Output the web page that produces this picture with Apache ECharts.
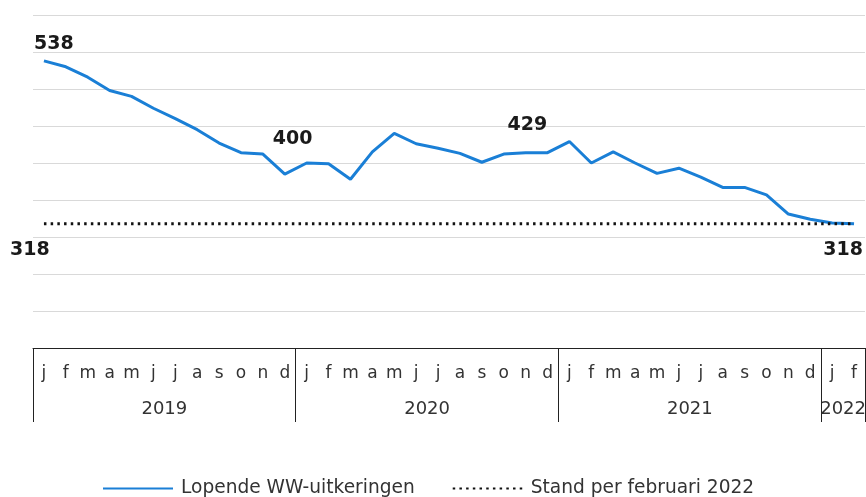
<!DOCTYPE html>
<html>
<head>
<meta charset="utf-8">
<script src="https://cdn.jsdelivr.net/npm/echarts@6/dist/echarts.min.js"></script>
<style>
  html, body { margin: 0; padding: 0; background: #fff; }
  #chart { width: 866px; height: 497px; }
</style>
</head>
<body>
<div id="chart"></div>
<script>
var monthLetters = ['j', 'f', 'm', 'a', 'm', 'j', 'j', 'a', 's', 'o', 'n', 'd'];
var years = ['2019', '2020', '2021', '2022'];
var monthsPerYear = [12, 12, 12, 2];

// lopende WW-uitkeringen (x 1000), jan 2019 - feb 2022
var lopend = [538, 530, 516, 498, 490, 474, 460, 445, 427, 414, 412, 385,
  400, 399, 378, 415, 440, 426, 420, 413, 401, 412, 414, 414,
  429, 400, 415, 400, 386, 393, 381, 367, 367, 357, 331, 324,
  319, 318];
var standFeb2022 = 318;

// which points get a number above them
var labelIdx = [0, 12, 24];
var labelShift = [[10, 0], [-14, 0], [-42, 0]];
var labelDist = [7, 14.5, 7];

var categories = [];
var yearStart = [0];
var yearMid = [];
years.forEach(function (y, i) {
  for (var m = 0; m < monthsPerYear[i]; m++) categories.push(monthLetters[m]);
  var start = yearStart[i];
  yearMid.push(start + monthsPerYear[i] / 2);
  yearStart.push(start + monthsPerYear[i]);
});

var lineData = lopend.map(function (v, i) {
  var k = labelIdx.indexOf(i);
  if (k < 0) return v;
  return {
    value: v,
    label: { show: true, position: 'top', distance: labelDist[k], offset: labelShift[k] }
  };
});

var standData = categories.map(function (c, i) {
  if (i === 0 || i === categories.length - 1) {
    return {
      value: standFeb2022,
      label: { show: true, position: 'bottom', distance: 17, offset: [i === 0 ? -14 : -11, 0] }
    };
  }
  return standFeb2022;
});

var labelFont = { fontFamily: 'DejaVu Sans', fontWeight: 'bold', fontSize: 19, color: '#1a1a1a' };

var chart = echarts.init(document.getElementById('chart'));
chart.setOption({
  animation: false,
  grid: { left: 33, right: 1, top: 15, bottom: 149, outerBoundsMode: 'none' },
  legend: {
    left: 102,
    top: 479,
    padding: 0,
    itemWidth: 70,
    itemHeight: 14,
    itemGap: 37,
    itemStyle: { opacity: 0 },
    textStyle: { fontFamily: 'DejaVu Sans', fontSize: 18.6, color: '#333', padding: [0, 0, 0, 3] },
    data: ['Lopende WW-uitkeringen', 'Stand per februari 2022']
  },
  xAxis: [{
    type: 'category',
    data: categories,
    boundaryGap: true,
    axisLine: { lineStyle: { color: '#222', width: 1 } },
    axisTick: { show: false },
    axisLabel: { interval: 0, margin: 17, fontFamily: 'DejaVu Sans', fontSize: 17, color: '#333' }
  }, {
    type: 'value',
    min: 0,
    max: categories.length,
    position: 'bottom',
    splitLine: { show: false },
    axisLine: { show: false },
    axisTick: { show: true, customValues: yearStart, length: 74, lineStyle: { color: '#222' } },
    axisLabel: {
      customValues: yearMid,
      margin: 52,
      fontFamily: 'DejaVu Sans',
      fontSize: 18,
      color: '#333',
      formatter: function (v) { return years[yearMid.indexOf(v)]; }
    }
  }],
  yAxis: {
    type: 'value',
    min: 150,
    max: 600,
    interval: 50,
    axisLine: { show: false },
    axisTick: { show: false },
    axisLabel: { show: false },
    splitLine: { lineStyle: { color: '#d9d9d9', width: 1 } }
  },
  series: [{
    name: 'Lopende WW-uitkeringen',
    type: 'line',
    data: lineData,
    symbol: 'circle',
    symbolSize: 0,
    showSymbol: true,
    lineStyle: { color: '#1a7fd6', width: 3 },
    itemStyle: { color: '#1a7fd6' },
    label: labelFont
  }, {
    name: 'Stand per februari 2022',
    type: 'line',
    data: standData,
    symbol: 'circle',
    symbolSize: 0,
    showSymbol: true,
    lineStyle: { color: '#111', width: 3, type: [2.5, 4.2] },
    itemStyle: { color: '#111' },
    label: labelFont
  }]
});
</script>
</body>
</html>
